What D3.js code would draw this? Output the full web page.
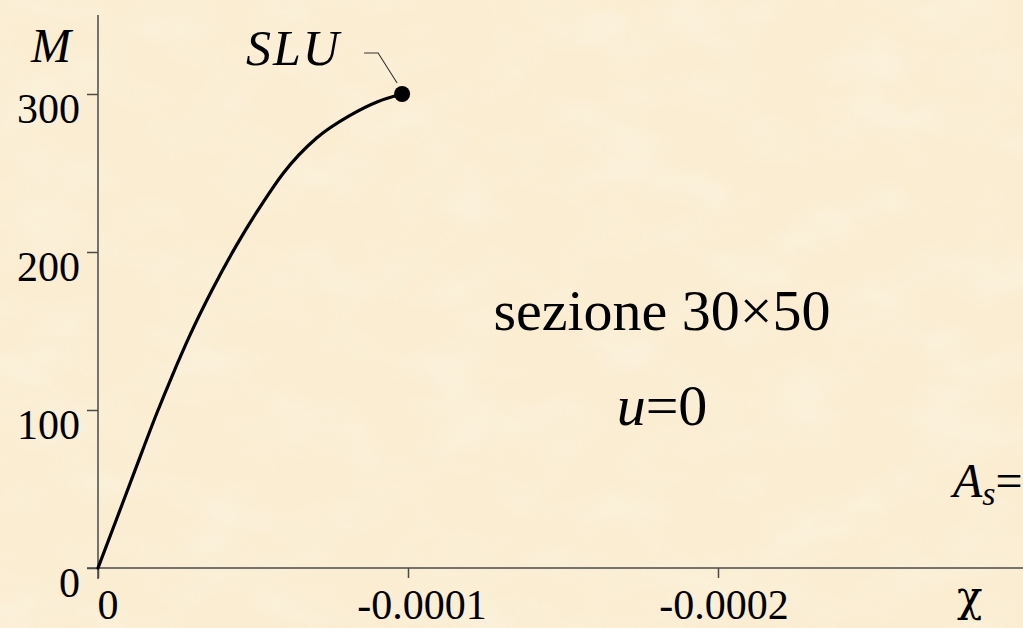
<!DOCTYPE html>
<html>
<head>
<meta charset="utf-8">
<script src="https://cdn.jsdelivr.net/npm/d3@7"></script>
<style>
  html, body { margin: 0; padding: 0; overflow: hidden; background: #faedd2; }
  svg { display: block; }
  text { font-family: "Liberation Serif", "Times New Roman", serif; fill: #000; }
</style>
</head>
<body>
<svg id="chart" width="1023" height="628"></svg>
<script>
// Moment–curvature diagram, section 30×50, u = 0
const chi = [0, -0.00000548, -0.0000119, -0.0000190, -0.0000239, -0.0000297, -0.0000368,
             -0.0000448, -0.0000532, -0.0000597, -0.0000706, -0.0000813, -0.0000900, -0.0000981];
const moment = [0, 28.3, 61.6, 98.1, 121.5, 147.5, 175.9, 204.7, 231.3, 249.7, 272.3, 286.5, 295.0, 300];

const ultimate = { chi: -0.0000981, M: 300, label: "SLU" };

const xTicks = [0, -0.0001, -0.0002];
const xTickLabels = ["0", "-0.0001", "-0.0002"];
const xLabelShift = [10, 14, 6];
const yTicks = [0, 100, 200, 300];
const yTickLabels = ["0", "100", "200", "300"];

const W = 1023, H = 628;
const svg = d3.select("#chart");

// parchment background with soft mottling
const defs = svg.append("defs");
const f = defs.append("filter").attr("id", "paper").attr("x", 0).attr("y", 0)
  .attr("width", "100%").attr("height", "100%");
f.append("feTurbulence").attr("type", "fractalNoise").attr("baseFrequency", "0.012 0.02")
  .attr("numOctaves", 3).attr("seed", 7).attr("result", "n");
f.append("feColorMatrix").attr("in", "n").attr("type", "matrix")
  .attr("values", "0 0 0 0 1  0 0 0 0 0.97  0 0 0 0 0.9  1.1 0 0 0 -0.45");
svg.append("rect").attr("width", W).attr("height", H).attr("fill", "#faedd2");
svg.append("rect").attr("width", W).attr("height", H).attr("filter", "url(#paper)").attr("opacity", 0.55);

const x = d3.scaleLinear().domain([0, -0.0001]).range([98, 408]);
const y = d3.scaleLinear().domain([0, 300]).range([568, 94]);

const axisColor = "#4a4a4a";

// x axis
const xAxis = svg.append("g").attr("transform", `translate(0,${y(0)})`)
  .call(d3.axisBottom(x).tickValues(xTicks).tickSize(10).tickFormat(""));
xAxis.select(".domain").remove();
xAxis.selectAll(".tick line").attr("stroke", axisColor).attr("stroke-width", 1.5);
svg.append("line").attr("x1", 87).attr("x2", W).attr("y1", y(0)).attr("y2", y(0))
  .attr("stroke", axisColor).attr("stroke-width", 1.5);
svg.append("g").selectAll("text").data(xTicks).join("text")
  .attr("x", (d, i) => x(d) + xLabelShift[i])
  .attr("y", 619)
  .attr("text-anchor", "middle")
  .attr("font-size", 42)
  .text((d, i) => xTickLabels[i]);

// y axis
const yAxis = svg.append("g").attr("transform", `translate(${x(0)},0)`)
  .call(d3.axisLeft(y).tickValues(yTicks).tickSize(11).tickFormat(""));
yAxis.select(".domain").remove();
yAxis.selectAll(".tick line").attr("stroke", axisColor).attr("stroke-width", 1.5);
svg.append("line").attr("x1", x(0)).attr("x2", x(0)).attr("y1", 15).attr("y2", 579)
  .attr("stroke", axisColor).attr("stroke-width", 1.5);
svg.append("g").selectAll("text").data(yTicks).join("text")
  .attr("x", 80)
  .attr("y", d => y(d) + 29)
  .attr("text-anchor", "end")
  .attr("font-size", 42)
  .text((d, i) => yTickLabels[i]);

// axis titles
svg.append("text").attr("x", 31).attr("y", 62).attr("font-size", 48)
  .attr("font-style", "italic").text("M");
svg.append("text").attr("x", 957).attr("y", 611).attr("font-size", 42)
  .style("font-family", "'DejaVu Serif', serif")
  .text("χ");

// curve
const pts = chi.map((c, i) => [c, moment[i]]);
svg.append("path").datum(pts)
  .attr("fill", "none").attr("stroke", "#000").attr("stroke-width", 3.2)
  .attr("stroke-linejoin", "round").attr("stroke-linecap", "round")
  .attr("d", d3.line().x(d => x(d[0])).y(d => y(d[1])).curve(d3.curveMonotoneX));

// ultimate limit state point and leader
const ux = x(ultimate.chi), uy = y(ultimate.M);
svg.append("path")
  .attr("d", `M${ux - 38},${uy - 41} L${ux - 24},${uy - 41} L${ux - 5},${uy - 11}`)
  .attr("fill", "none").attr("stroke", "#333").attr("stroke-width", 1.1);
svg.append("circle").attr("cx", ux).attr("cy", uy).attr("r", 8).attr("fill", "#000");
svg.append("text").attr("x", 246).attr("y", 65).attr("font-size", 50)
  .attr("font-style", "italic").attr("letter-spacing", 2).text(ultimate.label);

// section annotations
svg.append("text").attr("x", 662).attr("y", 330).attr("text-anchor", "middle")
  .attr("font-size", 58).text("sezione 30×50");
const u = svg.append("text").attr("x", 662).attr("y", 425).attr("text-anchor", "middle")
  .attr("font-size", 58);
u.append("tspan").attr("font-style", "italic").text("u");
u.append("tspan").text("=0");

const as = svg.append("text").attr("x", 953).attr("y", 497).attr("font-size", 48);
as.append("tspan").attr("font-style", "italic").text("A");
as.append("tspan").attr("font-style", "italic").attr("font-size", 34).attr("dy", 8).text("s");
as.append("tspan").attr("dy", -8).text("=");
</script>
</body>
</html>
